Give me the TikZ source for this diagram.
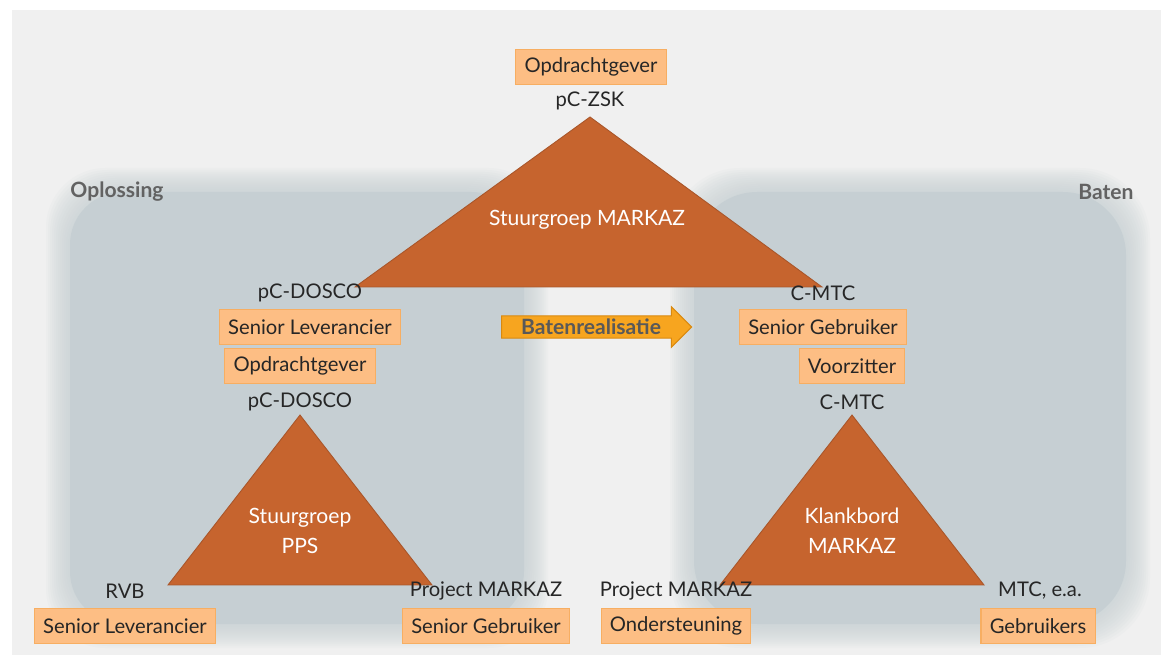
\documentclass[tikz,border=0pt]{standalone}
\usepackage{fontspec}
\setmainfont{Lato}
\usetikzlibrary{shapes.arrows,positioning}
\definecolor{bgGray}{HTML}{F0F0F0}
\definecolor{panelBlue}{HTML}{C6CFD3}
\definecolor{triBrown}{HTML}{C6642E}
\definecolor{triEdge}{HTML}{A9562A}
\definecolor{roleFill}{HTML}{FDBE84}
\definecolor{roleEdge}{HTML}{F7AE62}
\definecolor{arrowFill}{HTML}{F7A51F}
\definecolor{arrowEdge}{HTML}{D9890F}
\definecolor{sideGray}{HTML}{626262}

\begin{document}
\begin{tikzpicture}[x=0.02cm,y=-0.02cm,
    font=\fontsize{11.5}{13}\selectfont,
    role/.style={draw=roleEdge,fill=roleFill,line width=0.6pt,
        minimum height=0.7cm,inner xsep=5pt,inner ysep=2pt,text=black!85},
    who/.style={inner sep=0pt,text=black!85},
    tri/.style={fill=triBrown,draw=triEdge,line width=0.5pt},
    trilabel/.style={text=white,align=center,font=\fontsize{12}{17}\selectfont},
    side/.style={text=sideGray,font=\fontsize{12}{14}\selectfont\bfseries},
    panel/.style={fill=panelBlue,rounded corners=#1}]

    \useasboundingbox (0,0) rectangle (1161,655);
    \fill[white] (0,0) rectangle (1161,655);
    \fill[bgGray] (12,10) rectangle (1161,655);

    % Panels (soft edges)
    \foreach \d in {24,22,...,2}{
        \fill[panel=34pt,opacity=0.09] (70-\d,192-\d) rectangle (524+\d,624+\d);
        \fill[panel=40pt,opacity=0.09] (694-\d,192-\d) rectangle (1126+\d,624+\d);
    }
    \fill[panel=30pt] (70,192) rectangle (524,624);
    \fill[panel=36pt] (694,192) rectangle (1126,624);

    \node[side] (oplossing) at (117,192) {Oplossing};
    \node[side] (baten) at (1106,192) {Baten};

    % Stuurgroep MARKAZ
    \coordinate (zskTop) at (590,117);
    \coordinate (doscoCorner) at (355,287);
    \coordinate (mtcCorner) at (822,287);
    \fill[tri] (zskTop) -- (doscoCorner) -- (mtcCorner) -- cycle;
    \node[trilabel] (sgMarkaz) at (587,220) {Stuurgroep MARKAZ};

    \node[role] (opdrTop) at (591,67) {Opdrachtgever};
    \node[who] (zsk) at (590,101) {pC-ZSK};
    \node[who] (dosco) at (310,293) {pC-DOSCO};
    \node[who] (cmtc) at (823,293) {C-MTC};

    % Stuurgroep PPS
    \coordinate (ppsTop) at (300,415);
    \coordinate (ppsLeft) at (168,585);
    \coordinate (ppsRight) at (432,585);
    \fill[tri] (ppsTop) -- (ppsLeft) -- (ppsRight) -- cycle;
    \node[trilabel] (sgPps) at (300,531) {Stuurgroep\\PPS};

    \node[role] (seniorLevTop) at (310,327) {Senior Leverancier};
    \node[role] (opdrDosco) at (300,366) {Opdrachtgever};
    \node[who] (doscoPps) at (300,402) {pC-DOSCO};
    \node[who] (rvb) at (125,591) {RVB};
    \node[role] (seniorLevRvb) at (125,626) {Senior Leverancier};
    \node[who] (projPps) at (486,591) {Project MARKAZ};
    \node[role] (seniorGebrPps) at (486,626) {Senior Gebruiker};

    % Klankbord MARKAZ
    \coordinate (kbTop) at (852,415);
    \coordinate (kbLeft) at (720,585);
    \coordinate (kbRight) at (984,585);
    \fill[tri] (kbTop) -- (kbLeft) -- (kbRight) -- cycle;
    \node[trilabel] (klankbord) at (852,531) {Klankbord\\MARKAZ};

    \node[role] (seniorGebrTop) at (823,327) {Senior Gebruiker};
    \node[role] (voorzitter) at (852,366) {Voorzitter};
    \node[who] (cmtcKb) at (852,402) {C-MTC};
    \node[who] (projKb) at (676,591) {Project MARKAZ};
    \node[role] (ondersteuning) at (676,626) {Ondersteuning};
    \node[who] (mtcEa) at (1040,591) {MTC, e.a.};
    \node[role] (gebruikers) at (1038,626) {Gebruikers};

    % Batenrealisatie
    \node[single arrow,fill=arrowFill,draw=arrowEdge,line width=0.6pt,
        minimum height=3.8cm,minimum width=0.78cm,single arrow head extend=0.18cm,
        inner ysep=1.5pt,inner xsep=2pt,text=black!65,
        font=\fontsize{12}{14}\selectfont\bfseries] (batenArrow) at (591,327) {Batenrealisatie};
\end{tikzpicture}
\end{document}
